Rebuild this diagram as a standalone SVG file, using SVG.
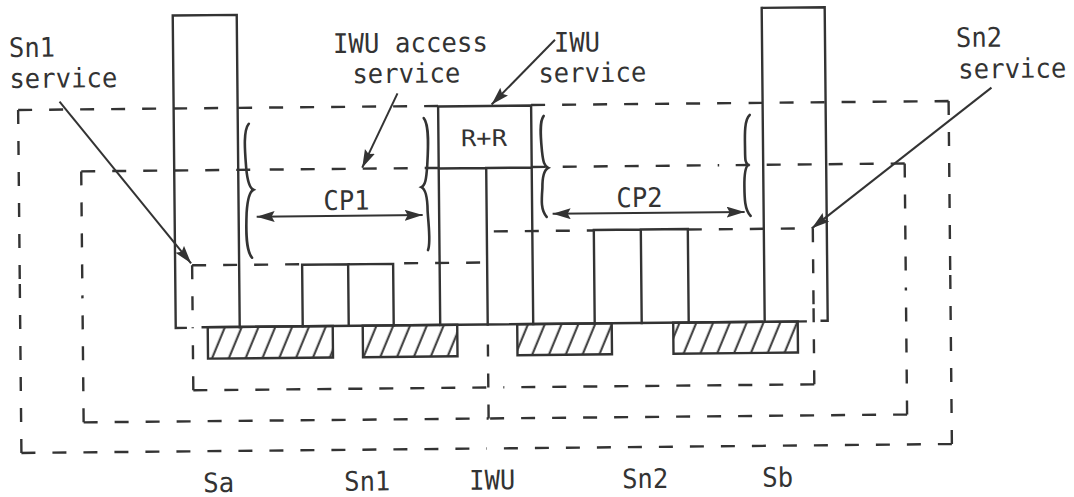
<svg xmlns="http://www.w3.org/2000/svg" width="1074" height="497" viewBox="0 0 1074 497">
<style>
.s{fill:none;stroke:#333;stroke-width:2.4;stroke-linecap:square}
.d{fill:none;stroke:#333;stroke-width:2.4;stroke-dasharray:14 17}
.b{fill:none;stroke:#333;stroke-width:2.6;stroke-linecap:round}
.h{fill:url(#hatch);stroke:#333;stroke-width:2.4}
.a{fill:none;stroke:#333;stroke-width:2}
text{font-family:"DejaVu Sans Mono","Liberation Mono",monospace;font-size:27px;fill:#333}
</style>
<defs>
<pattern id="hatch" patternUnits="userSpaceOnUse" width="15.5" height="10" patternTransform="rotate(23)">
<line x1="7.5" y1="-1" x2="7.5" y2="11" stroke="#333" stroke-width="2"/>
</pattern>
<marker id="ah" markerUnits="userSpaceOnUse" markerWidth="20" markerHeight="12" refX="18" refY="5.5" orient="auto-start-reverse">
<path d="M0,0 L18,5.5 L0,11 L3,5.5 z" fill="#333"/>
</marker>
</defs>
<rect width="1074" height="497" fill="#fff"/>
<g transform="rotate(-0.55 537 250)">
<g id="service-boundaries">
<path class="d" d="M19.5,105 H230 M439.5,105 H230 M532.5,105 H740 M950,105 H740 M19.5,105 V276 M19.5,448 V276 M19.5,448 H485 M950,448 H485 M950,105 V276 M950,448 V276"/>
<path class="d" d="M82,167 H260 M439.5,167 H260 M532.5,167 H720 M905.5,167 H720 M82,167 V292 M82,418 V292 M82,418 H487 M905.5,418 H487 M905.5,167 V292 M905.5,418 V292 M487,418 V344"/>
<path class="d" d="M192,262 H302 M480,262 H393 M494,231 H594 M688,231 H813 M192,262 V324 M192,387 V324 M813,231 V309 M813,387 V309 M192,387 H502 M813,387 H502"/>
</g>
<g id="Sa">
<path class="s" d="M185,324.5 H175 V12 H239 V324.5"/>
</g>
<g id="Sb">
<path class="s" d="M764,324 V10 H827 V323.5 H821"/>
</g>
<g id="baseline">
<path class="s" d="M202,324 H805"/>
<rect class="h" x="207" y="324" width="125" height="31.5"/>
<rect class="h" x="362" y="324" width="94.5" height="31.5"/>
<rect class="h" x="516.5" y="324" width="94.5" height="31"/>
<rect class="h" x="672.5" y="324" width="124.5" height="31"/>
</g>
<g id="Sn1">
<path class="s" d="M302,324 V262.5 H393 V324 M348,262.5 V324"/>
</g>
<g id="Sn2">
<path class="s" d="M594,324 V230.5 H688 V324 M641,230.5 V324"/>
</g>
<g id="IWU">
<path class="s" d="M439.5,324 V105.5 H532.5 V324 M439.5,167.5 H532.5 M487,167.5 V324"/>
<text x="462" y="145.5" textLength="46" lengthAdjust="spacingAndGlyphs" style="font-size:23px">R+R</text>
</g>
<g id="braces">
<path class="b" d="M250,121 C244,128 246,150 247,165 C248,178 250,185 254,187 C250,189 248,196 247,210 C246,230 246,248 252,255"/>
<path class="b" d="M425,117 C431,124 429,150 428,165 C427,178 426,184 422,186 C426,188 428,196 428,210 C429,228 431,242 428,249"/>
<path class="b" d="M545,116 C540,122 542,140 543,152 C544,162 545,166 549,168 C545,170 543,176 543,188 C542,200 541,210 547,217"/>
<path class="b" d="M751,117 C745,122 746,140 746,152 C746,162 746,165 749,167 C746,169 745,175 745,188 C745,200 745,212 751,218"/>
</g>
<g id="connectors">
<line class="a" x1="257" y1="214" x2="423" y2="214" marker-start="url(#ah)" marker-end="url(#ah)"/>
<line class="a" x1="553" y1="214" x2="745" y2="214" marker-start="url(#ah)" marker-end="url(#ah)"/>
<line class="a" x1="61" y1="97" x2="191" y2="260" marker-end="url(#ah)"/>
<line class="a" x1="399" y1="92" x2="363" y2="166" marker-end="url(#ah)"/>
<line class="a" x1="557" y1="40" x2="493" y2="104" marker-end="url(#ah)"/>
<line class="a" x1="993" y1="92" x2="812" y2="231" marker-end="url(#ah)"/>
</g>
<g id="labels">
<text x="11" y="52" textLength="46" lengthAdjust="spacingAndGlyphs">Sn1</text>
<text x="11" y="83" textLength="108" lengthAdjust="spacingAndGlyphs">service</text>
<text x="335" y="51" textLength="155" lengthAdjust="spacingAndGlyphs">IWU access</text>
<text x="354" y="81.5" textLength="108" lengthAdjust="spacingAndGlyphs">service</text>
<text x="556" y="52" textLength="46" lengthAdjust="spacingAndGlyphs">IWU</text>
<text x="540" y="82.5" textLength="108" lengthAdjust="spacingAndGlyphs">service</text>
<text x="958" y="51" textLength="46" lengthAdjust="spacingAndGlyphs">Sn2</text>
<text x="960" y="82.5" textLength="108" lengthAdjust="spacingAndGlyphs">service</text>
<text x="324" y="208" textLength="46" lengthAdjust="spacingAndGlyphs">CP1</text>
<text x="617" y="208" textLength="46" lengthAdjust="spacingAndGlyphs">CP2</text>
<text x="201" y="489" textLength="31" lengthAdjust="spacingAndGlyphs">Sa</text>
<text x="342" y="489" textLength="46" lengthAdjust="spacingAndGlyphs">Sn1</text>
<text x="467" y="489" textLength="46" lengthAdjust="spacingAndGlyphs">IWU</text>
<text x="620" y="489" textLength="46" lengthAdjust="spacingAndGlyphs">Sn2</text>
<text x="760" y="489" textLength="31" lengthAdjust="spacingAndGlyphs">Sb</text>
</g>
</g>
</svg>
